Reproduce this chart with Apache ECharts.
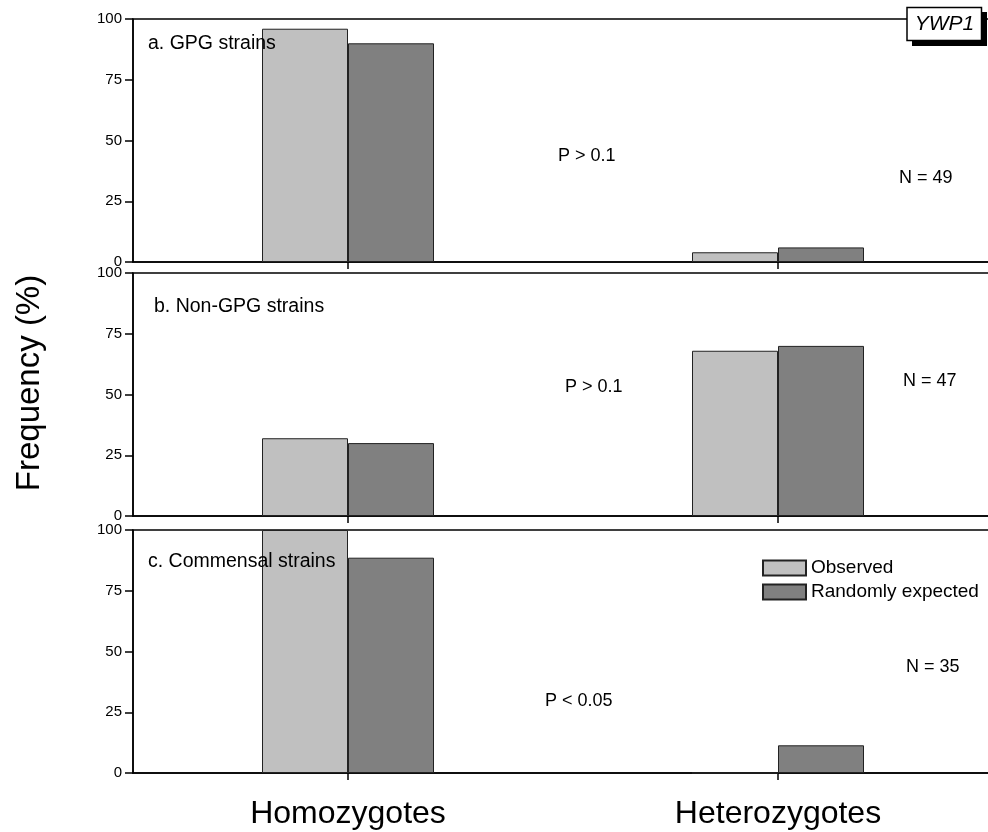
<!DOCTYPE html>
<html>
<head>
<meta charset="utf-8">
<title>YWP1 genotype frequencies</title>
<script src="https://cdn.jsdelivr.net/npm/echarts@6/dist/echarts.min.js"></script>
<style>
  html, body { margin: 0; padding: 0; background: #fff; }
  #chart { width: 988px; height: 832px; }
</style>
</head>
<body>
<div id="chart"></div>
<script>
// Genotype classes on the x axis
const categories = ['Homozygotes', 'Heterozygotes'];
const yTicks = [0, 25, 50, 75, 100];

// Frequencies (%) per panel: observed vs randomly expected
const observedGPG = [96, 4];
const expectedGPG = [90, 6];
const observedNonGPG = [32, 68];
const expectedNonGPG = [30, 70];
const observedCommensal = [100, 0];
const expectedCommensal = [88.6, 11.4];

const panelTitles = ['a. GPG strains', 'b. Non-GPG strains', 'c. Commensal strains'];
const pLabels = ['P > 0.1', 'P > 0.1', 'P < 0.05'];
const nLabels = ['N = 49', 'N = 47', 'N = 35'];
const seriesNames = ['Observed', 'Randomly expected'];
const geneLabel = 'YWP1';
const yTitle = 'Frequency (%)';

const FONT = '"Liberation Sans", Arial, Helvetica, sans-serif';
const panelTops = [19, 273, 530];
const panelHeight = 243;
const observedData = [observedGPG, observedNonGPG, observedCommensal];
const expectedData = [expectedGPG, expectedNonGPG, expectedCommensal];

// The plot box runs past the right edge of the canvas, so its right border is clipped off
const grids = panelTops.map(t => ({
  left: 133, top: t, width: 860, height: panelHeight,
  outerBoundsMode: 'none', containLabel: false,
  show: true, borderColor: '#000', borderWidth: 1.5, backgroundColor: 'transparent'
}));

const xAxes = panelTops.map((t, i) => ({
  type: 'category', gridIndex: i, data: categories,
  axisLine: { lineStyle: { color: '#000', width: 1.5 } },
  axisTick: { show: true, alignWithLabel: true, length: 7, lineStyle: { color: '#000', width: 1.5 } },
  axisLabel: {
    show: i === 2, color: '#000', fontSize: 32, fontFamily: FONT, margin: 25
  }
}));

const yAxes = panelTops.map((t, i) => ({
  type: 'value', gridIndex: i, min: 0, max: 100, interval: 25,
  axisLine: { show: true, lineStyle: { color: '#000', width: 1.5 } },
  axisTick: { show: true, length: 8, lineStyle: { color: '#000', width: 1.5 } },
  splitLine: { show: false },
  axisLabel: {
    color: '#000', fontSize: 15, fontFamily: FONT, margin: 11,
    formatter: v => yTicks.includes(v) ? String(v) : ''
  }
}));

const series = [];
panelTops.forEach((t, i) => {
  series.push({
    name: seriesNames[0], type: 'bar', xAxisIndex: i, yAxisIndex: i,
    data: observedData[i], barWidth: 86, barGap: '0%',
    itemStyle: { color: '#c0c0c0', borderColor: '#222', borderWidth: 1 },
    emphasis: { disabled: true }
  });
  series.push({
    name: seriesNames[1], type: 'bar', xAxisIndex: i, yAxisIndex: i,
    data: expectedData[i], barWidth: 86, barGap: '0%',
    itemStyle: { color: '#808080', borderColor: '#222', borderWidth: 1 },
    emphasis: { disabled: true }
  });
});

const titlePos = [[148, 43.5], [154, 306.5], [148, 561.5]];
const pPos = [[558, 156], [565, 387], [545, 701.5]];
const nPos = [[899, 178], [903, 381], [906, 667]];

const textStyleBase = { fill: '#000', fontSize: 18, fontFamily: FONT, verticalAlign: 'middle', align: 'left' };
const graphics = [];
panelTitles.forEach((s, i) => {
  graphics.push({ type: 'text', x: titlePos[i][0], y: titlePos[i][1], z: 10,
    style: Object.assign({}, textStyleBase, { text: s, fontSize: 19.5 }) });
  graphics.push({ type: 'text', x: pPos[i][0], y: pPos[i][1], z: 10,
    style: Object.assign({}, textStyleBase, { text: pLabels[i] }) });
  graphics.push({ type: 'text', x: nPos[i][0], y: nPos[i][1], z: 10,
    style: Object.assign({}, textStyleBase, { text: nLabels[i] }) });
});
// Vertical axis title
graphics.push({ type: 'text', x: 30, y: 383, rotation: Math.PI / 2, z: 10,
  style: { text: yTitle, fill: '#000', fontSize: 33, fontFamily: FONT, align: 'center', verticalAlign: 'middle' } });
// Gene tag with drop shadow, top right
graphics.push({ type: 'rect', shape: { x: 912, y: 12, width: 75, height: 34 }, z: 10,
  style: { fill: '#000' } });
graphics.push({ type: 'rect', shape: { x: 907, y: 7.5, width: 74.5, height: 33 }, z: 11,
  style: { fill: '#fff', stroke: '#000', lineWidth: 1.5 } });
graphics.push({ type: 'text', x: 944.5, y: 24.5, z: 12,
  style: { text: geneLabel, fill: '#000', fontSize: 21, fontStyle: 'italic', fontFamily: FONT, align: 'center', verticalAlign: 'middle' } });

const chart = echarts.init(document.getElementById('chart'), null, { renderer: 'canvas' });
chart.setOption({
  animation: false,
  backgroundColor: '#fff',
  grid: grids,
  xAxis: xAxes,
  yAxis: yAxes,
  legend: {
    data: seriesNames, orient: 'vertical', left: 762, top: 558.5, padding: 0,
    itemWidth: 43, itemHeight: 15, itemGap: 5, icon: 'rect',
    selectedMode: false,
    textStyle: { color: '#000', fontSize: 19, fontFamily: FONT }
  },
  series: series,
  graphic: graphics
});
</script>
</body>
</html>
